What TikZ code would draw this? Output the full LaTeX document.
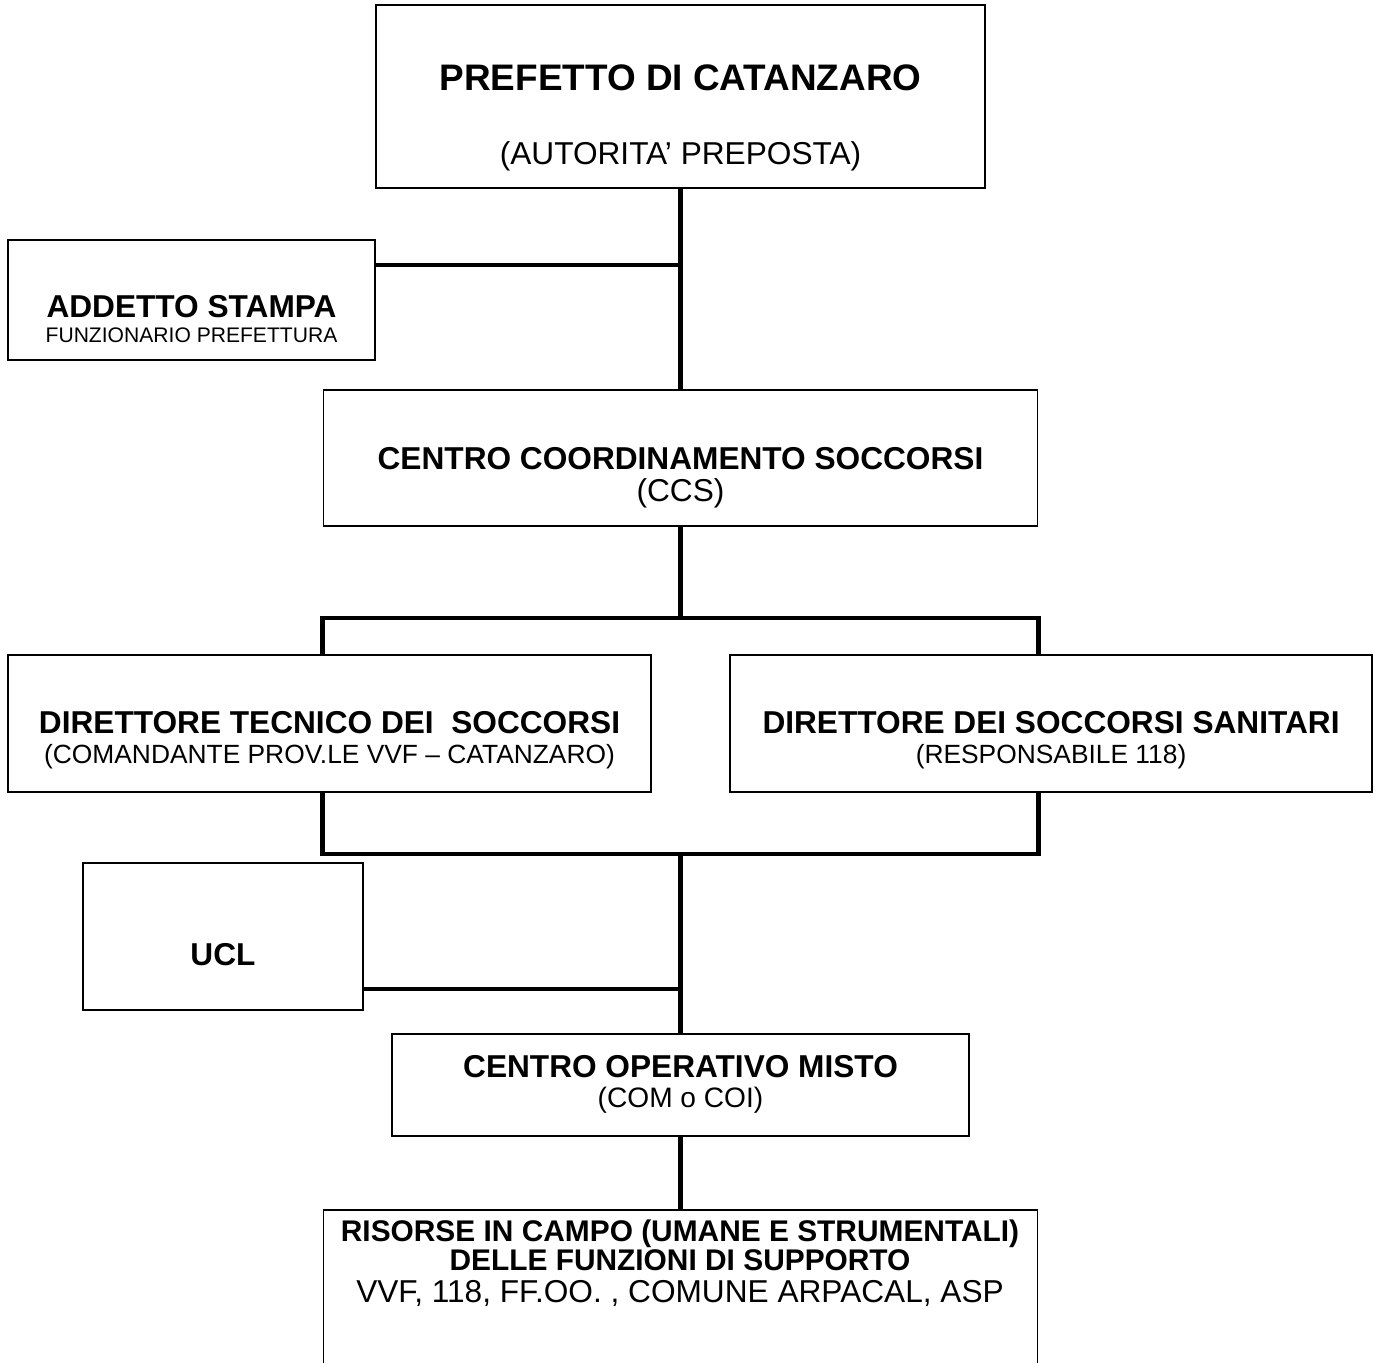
\documentclass[tikz,border=0pt]{standalone}
\usepackage{fontspec}
\setmainfont{Liberation Sans}
\usetikzlibrary{positioning}

\newcommand{\lighttext}[2]{{\mdseries\fontsize{#1}{#1}\selectfont #2}}

\begin{document}
\begin{tikzpicture}[
  box/.style={rectangle, draw=black, line width=1.1pt, inner sep=0pt},
  head/.style={align=center, inner sep=0pt, font=\fontsize{18}{18}\selectfont\bfseries},
  link/.style={line width=2.6pt},
]
\useasboundingbox (0,0) rectangle (27.58,-27.24);

\node[box, minimum width=12.18cm, minimum height=3.66cm] (pref) at (13.61,-1.93) {};
\node[box, minimum width=7.34cm, minimum height=2.4cm] (stampa) at (3.83,-6.0) {};
\node[box, minimum width=14.28cm, minimum height=2.72cm, below=4cm of pref] (ccs) {};
\node[box, minimum width=12.86cm, minimum height=2.74cm] (dts) at (6.59,-14.47) {};
\node[box, minimum width=12.84cm, minimum height=2.74cm] (dss) at (21.02,-14.47) {};
\node[box, minimum width=5.6cm, minimum height=2.94cm] (ucl) at (4.46,-18.73) {};
\node[box, minimum width=11.54cm, minimum height=2.04cm] (com) at (13.61,-21.7) {};
\node[box, minimum width=14.28cm, minimum height=3.3cm, below=1.44cm of com] (ris) {};

\node[head, font=\fontsize{21}{21}\selectfont\bfseries] (preftxt) at ([yshift=-0.42cm]pref.center)
  {PREFETTO DI CATANZARO\\[21pt]\lighttext{18}{(AUTORITA’ PREPOSTA)}};
\node[head] (stampatxt) at ([yshift=-0.38cm]stampa.center)
  {ADDETTO STAMPA\\[-4pt]\lighttext{12}{FUNZIONARIO PREFETTURA}};
\node[head] (ccstxt) at ([yshift=-0.4cm]ccs.center)
  {CENTRO COORDINAMENTO SOCCORSI\\\lighttext{18}{(CCS)}};
\node[head] (dtstxt) at ([yshift=-0.33cm]dts.center)
  {DIRETTORE TECNICO DEI\ \ SOCCORSI\\[-1pt]\lighttext{15}{(COMANDANTE PROV.LE VVF – CATANZARO)}};
\node[head] (dsstxt) at ([yshift=-0.33cm]dss.center)
  {DIRETTORE DEI SOCCORSI SANITARI\\[-1pt]\lighttext{15}{(RESPONSABILE 118)}};
\node[head] (ucltxt) at ([yshift=-0.37cm]ucl.center) {UCL};
\node[head] (comtxt) at ([yshift=0.02cm]com.center)
  {CENTRO OPERATIVO MISTO\\[-1pt]\lighttext{16}{(COM o COI)}};
\node[head, font=\fontsize{17}{17}\selectfont\bfseries] (ristxt) at (13.6,-25.26)
  {RISORSE IN CAMPO (UMANE E STRUMENTALI)\\DELLE FUNZIONI DI SUPPORTO\\[1pt]\lighttext{18}{VVF, 118, FF.OO. , COMUNE ARPACAL, ASP}};

\coordinate (jstampa) at ([yshift=-0.52cm]stampa.north east);
\coordinate (bus1) at ([yshift=-1.82cm]ccs.south);
\coordinate (bus2) at ([yshift=-1.22cm]com.north |- dts.south);
\coordinate (jucl) at ([yshift=0.44cm]ucl.south east);

\draw[link] (pref.south) -- (pref.south |- ccs.north);
\draw[link] (jstampa) -- (jstampa -| pref.south);
\draw[link] (ccs.south) -- (bus1);
\draw[link] (ccs.south west |- dts.north) |- (bus1) -| (ccs.south east |- dss.north);
\draw[link] (ccs.south west |- dts.south) |- (bus2) -| (ccs.south east |- dss.south);
\draw[link] (bus2) -- (com.north);
\draw[link] (jucl) -- (jucl -| com.north);
\draw[link] (com.south) -- (ris.north);

\end{tikzpicture}
\end{document}
